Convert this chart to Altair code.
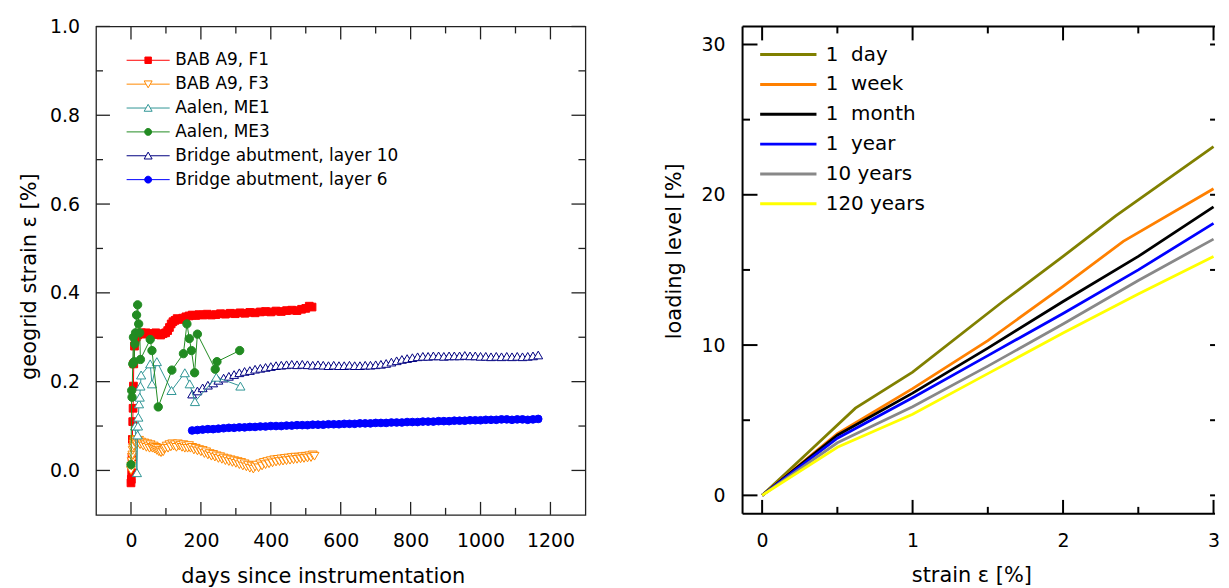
import altair as alt
import pandas as pd

FONT = "DejaVu Sans"

# ---------------- left chart data ----------------
left_names = ["BAB A9, F1", "BAB A9, F3", "Aalen, ME1", "Aalen, ME3",
              "Bridge abutment, layer 10", "Bridge abutment, layer 6"]
left_colors = ["#ff0000", "#ff8800", "#2f9595", "#228b22", "#000080", "#0000ff"]
left_fills = ["#ff0000", "#ffffff", "#ffffff", "#228b22", "#ffffff", "#0000ff"]
left_shapes = ["square", "triangle-down", "triangle-up", "circle", "triangle-up", "circle"]
left_sizes = [60, 80, 85, 70, 80, 60]
legend_paths = [
    "M-1,0H-0.15M0.15,0H1M-0.15,-0.15H0.15V0.15H-0.15Z",
    "M-1,0H-0.1M0.1,0H1M-0.185,-0.15H0.185L0,0.17Z",
    "M-1,0H-0.1M0.1,0H1M0,-0.17L0.185,0.15H-0.185Z",
    "M-1,0H1M0.16,0A0.16,0.16,0,1,1,-0.16,0A0.16,0.16,0,1,1,0.16,0Z",
    "M-1,0H-0.1M0.1,0H1M0,-0.17L0.185,0.15H-0.185Z",
    "M-1,0H1M0.16,0A0.16,0.16,0,1,1,-0.16,0A0.16,0.16,0,1,1,0.16,0Z",
]

F1_days = [0, 1, 2, 3, 4, 5, 6, 7, 8, 10, 12, 15, 19, 24, 30, 36, 43, 50, 57, 64,
           71, 78, 85, 92, 99, 105, 110, 115, 120, 126, 132, 140, 148, 157, 166, 175, 185, 195, 206, 218,
           230, 243, 256, 270, 284, 298, 312, 326, 340, 355, 370, 385, 400, 415, 430, 445, 460, 475, 488, 500,
           510, 518]
F1_strain = [-0.028, -0.02, -0.005, 0.03, 0.07, 0.11, 0.14, 0.19, 0.24, 0.28,
             0.295, 0.30, 0.305, 0.308, 0.31, 0.307, 0.31, 0.308, 0.305, 0.308,
             0.31, 0.306, 0.305, 0.308, 0.31, 0.315, 0.322, 0.33, 0.335, 0.338,
             0.342, 0.34, 0.343, 0.346, 0.348, 0.35, 0.349, 0.351, 0.35, 0.352,
             0.35, 0.351, 0.353, 0.352, 0.354, 0.353, 0.355, 0.354, 0.356, 0.355,
             0.357, 0.358, 0.357, 0.359, 0.358, 0.36, 0.361, 0.36, 0.363, 0.365,
             0.37, 0.368]

F3_days = [0, 1, 2, 3, 4, 5, 6, 7, 8, 9, 10, 12, 14, 16,
           20, 23, 26, 29, 32, 35, 38, 41, 44, 47, 50, 53, 56, 59, 62, 65, 68, 71, 74, 77, 80, 83, 86,
           89, 92, 95, 98,
           102, 106, 110, 114, 118, 122, 126, 130, 134, 138, 142, 146, 150, 154, 158, 162, 166, 170,
           175, 180, 185, 190, 195, 200, 205, 210, 215, 220, 225, 230, 235, 240, 245, 250, 255, 260,
           265, 270, 275, 280, 285, 290, 295, 300, 305, 310, 315, 320, 325, 330, 335, 340, 345, 350, 355,
           360, 365, 370, 375, 380, 385, 390, 395, 400, 405, 410, 415, 420, 425, 430, 435, 440, 445,
           450, 455, 460, 465, 470, 475, 480, 485, 490, 495, 500, 505, 510, 515, 520, 525]
F3_strain = [0.0, 0.01, 0.02, 0.03, 0.035, 0.045, 0.05, 0.06, 0.055, 0.065, 0.07, 0.062, 0.068, 0.06,
             0.062, 0.068, 0.058, 0.064, 0.06, 0.055, 0.062, 0.058, 0.052, 0.06, 0.055, 0.05, 0.058,
             0.052, 0.05, 0.055, 0.048, 0.052, 0.045, 0.05, 0.042, 0.046, 0.04, 0.045, 0.042, 0.048,
             0.05,
             0.055, 0.05, 0.058, 0.053, 0.06, 0.055, 0.058, 0.052, 0.06, 0.055, 0.057, 0.052, 0.058,
             0.05, 0.055, 0.05, 0.056, 0.05,
             0.052, 0.046, 0.05, 0.044, 0.047, 0.042, 0.045, 0.038, 0.042, 0.035, 0.038, 0.032, 0.036,
             0.03, 0.033, 0.027, 0.031, 0.025, 0.028, 0.022, 0.026, 0.02, 0.024, 0.018, 0.022, 0.016,
             0.02, 0.013, 0.018, 0.01, 0.015, 0.008, 0.012, 0.005, 0.01, 0.003, 0.008,
             0.012, 0.006, 0.015, 0.01, 0.018, 0.013, 0.02, 0.015, 0.022, 0.017, 0.024, 0.019, 0.025,
             0.02, 0.026, 0.021, 0.027, 0.022, 0.028, 0.023, 0.029, 0.024, 0.03, 0.025, 0.03, 0.026,
             0.031, 0.027, 0.032, 0.028, 0.033, 0.029, 0.035, 0.032]

ME1_days = [12, 17, 19, 20, 21, 23, 25, 27, 29, 55, 60, 74, 116, 154, 168, 183, 244, 313]
ME1_strain = [0.10, -0.005, 0.08, 0.10, 0.12, 0.15, 0.165, 0.19, 0.215, 0.24, 0.195, 0.245,
              0.18, 0.22, 0.195, 0.155, 0.21, 0.19]

ME3_days = [0, 2, 3, 5, 7, 9, 11, 13, 16, 19, 22, 25, 27, 55, 60, 78, 117, 150, 160, 167,
            173, 182, 190, 241, 246, 311]
ME3_strain = [0.013, 0.18, 0.165, 0.24, 0.30, 0.245, 0.285, 0.31, 0.35, 0.373, 0.33, 0.31, 0.25,
              0.295, 0.27, 0.143, 0.226, 0.263, 0.33, 0.297, 0.27, 0.22, 0.307, 0.228, 0.245, 0.27]

bridge_days = [175, 190, 205, 220, 235, 250, 265, 280, 295, 310, 325, 340, 355, 370, 385, 400, 415,
               430, 445, 460, 475, 490, 505, 520, 535, 550, 565, 580, 595, 610, 625, 640, 655, 670,
               685, 700, 715, 730, 745, 760, 775, 790, 805, 820, 835, 850, 865, 880, 895, 910, 925,
               940, 955, 970, 985, 1000, 1015, 1030, 1045, 1060, 1075, 1090, 1105, 1120, 1135, 1150, 1165]
L10_strain = [0.172, 0.179, 0.186, 0.192, 0.197, 0.203, 0.208, 0.212, 0.216, 0.22,
              0.223, 0.225, 0.228, 0.23, 0.232, 0.234, 0.236, 0.237, 0.238, 0.239,
              0.238, 0.239, 0.238, 0.237, 0.238, 0.237, 0.236, 0.237, 0.236, 0.236,
              0.237, 0.236, 0.236, 0.237, 0.237, 0.238, 0.239, 0.241, 0.244, 0.247,
              0.25, 0.252, 0.254, 0.256, 0.257, 0.257, 0.258, 0.258, 0.257, 0.258,
              0.258, 0.258, 0.259, 0.258, 0.258, 0.257, 0.257, 0.256, 0.257, 0.256,
              0.257, 0.256, 0.257, 0.256, 0.257, 0.258, 0.26]
L6_strain = [0.09, 0.091, 0.092, 0.093, 0.093, 0.094, 0.095, 0.096, 0.096, 0.097,
             0.097, 0.098, 0.098, 0.099, 0.099, 0.1, 0.1, 0.1, 0.101, 0.101,
             0.102, 0.102, 0.102, 0.103, 0.103, 0.103, 0.104, 0.104, 0.104, 0.105,
             0.105, 0.105, 0.106, 0.106, 0.106, 0.107, 0.107, 0.107, 0.108, 0.108,
             0.108, 0.109, 0.109, 0.109, 0.11, 0.11, 0.11, 0.111, 0.111, 0.111,
             0.112, 0.112, 0.112, 0.113, 0.113, 0.113, 0.114, 0.114, 0.114, 0.115,
             0.115, 0.114, 0.115, 0.115, 0.114, 0.115, 0.116]

left_x_major = [0, 200, 400, 600, 800, 1000, 1200]
left_x_minor = [100, 300, 500, 700, 900, 1100]
left_y_major = [0.0, 0.2, 0.4, 0.6, 0.8, 1.0]
left_y_minor = [0.1, 0.3, 0.5, 0.7, 0.9]

# ---------------- right chart data ----------------
right_names = ["1\u00a0\u00a0day", "1\u00a0\u00a0week", "1\u00a0\u00a0month", "1\u00a0\u00a0year",
               "10 years", "120 years"]
right_colors = ["#808000", "#ff8000", "#000000", "#0000ff", "#888888", "#ffff00"]
day1_eps = [0, 0.3, 0.62, 1.0, 1.6, 2.0, 2.35, 3.0]
day1_load = [0, 2.8, 5.8, 8.2, 12.9, 15.9, 18.6, 23.2]
week_eps = [0, 0.5, 1.0, 1.5, 2.0, 2.4, 3.0]
week_load = [0, 4.1, 7.1, 10.3, 13.9, 16.9, 20.4]
month_eps = [0, 0.5, 1.0, 1.5, 2.0, 2.5, 3.0]
month_load = [0, 4.0, 6.8, 9.8, 12.9, 15.9, 19.2]
year_eps = [0, 0.5, 1.0, 1.5, 2.0, 2.5, 3.0]
year_load = [0, 3.8, 6.5, 9.3, 12.1, 15.0, 18.1]
y10_eps = [0, 0.5, 1.0, 1.5, 2.0, 2.5, 3.0]
y10_load = [0, 3.5, 5.9, 8.6, 11.4, 14.3, 17.05]
y120_eps = [0, 0.5, 1.0, 1.5, 2.0, 2.5, 3.0]
y120_load = [0, 3.2, 5.4, 8.1, 10.8, 13.4, 15.9]

right_x_major = [0, 1, 2, 3]
right_x_minor = [0.5, 1.5, 2.5]
right_y_major = [0, 10, 20, 30]
right_y_minor = [5, 15, 25]

# ---------------- build tables ----------------
left_series = [(F1_days, F1_strain), (F3_days, F3_strain), (ME1_days, ME1_strain),
               (ME3_days, ME3_strain), (bridge_days, L10_strain), (bridge_days, L6_strain)]
rows = []
for name, (d, s) in zip(left_names, left_series):
    assert len(d) == len(s), name
    rows += [{"series": name, "day": a, "strain": b} for a, b in zip(d, s)]
dfL = pd.DataFrame(rows)

right_series = [(day1_eps, day1_load), (week_eps, week_load), (month_eps, month_load),
                (year_eps, year_load), (y10_eps, y10_load), (y120_eps, y120_load)]
rrows = []
for name, (e, l) in zip(right_names, right_series):
    assert len(e) == len(l), name
    rrows += [{"series": name, "eps": a, "load": b} for a, b in zip(e, l)]
dfR = pd.DataFrame(rrows)

# ---------------- left panel ----------------
WL, HL = 492, 491
SPACING = 158
TXT = dict(labelFont=FONT, labelColor="black", titleFont=FONT, titleColor="black",
           titleFontWeight="normal", ticks=False, tickSize=0, domain=False, grid=False,
           labelFlush=False)

xL = alt.X("day:Q", scale=alt.Scale(domain=[-100, 1300], nice=False, zero=False),
           axis=alt.Axis(values=left_x_major, format="d", labelFontSize=19, labelPadding=26,
                         labelBaseline="middle", title="days since instrumentation",
                         titleFontSize=21, titleX=228, titleY=62, titleBaseline="middle", **TXT))
yL = alt.Y("strain:Q", scale=alt.Scale(domain=[-0.1, 1.0], nice=False, zero=False),
           axis=alt.Axis(values=left_y_major, format=".1f", labelFontSize=19, labelPadding=16.6,
                         title="geogrid strain \u03b5 [%]", titleFontSize=21, titleX=-67,
                         titleY=251, titleBaseline="middle", **TXT))

left_layers = []
TCOL = "#222222"
for vals, L in [(left_x_major, 13), (left_x_minor, 7)]:
    b = alt.Chart(pd.DataFrame({"day": vals})).mark_rule(color=TCOL, strokeWidth=1.3)
    left_layers.append(b.encode(x=xL, y=alt.value(HL), y2=alt.value(HL - L)))
    left_layers.append(b.encode(x=xL, y=alt.value(0), y2=alt.value(L)))
for vals, L in [(left_y_major, 14), (left_y_minor, 7)]:
    b = alt.Chart(pd.DataFrame({"strain": vals})).mark_rule(color=TCOL, strokeWidth=1.3)
    left_layers.append(b.encode(y=yL, x=alt.value(0), x2=alt.value(L)))
    left_layers.append(b.encode(y=yL, x=alt.value(WL), x2=alt.value(WL - L)))

draw_order = [0, 1, 4, 5, 2, 3]
for i in draw_order:
    name = left_names[i]
    sub = alt.Chart(dfL).transform_filter(alt.datum.series == name)
    left_layers.append(sub.mark_line(color=left_colors[i], strokeWidth=1).encode(x=xL, y=yL))
    left_layers.append(sub.mark_point(shape=left_shapes[i], size=left_sizes[i], fill=left_fills[i],
                                      stroke=left_colors[i], strokeWidth=1, opacity=1,
                                      fillOpacity=1).encode(x=xL, y=yL))

legL = alt.Legend(title=None, orient="none", legendX=29.9, legendY=22.2, clipHeight=23.6,
                  rowPadding=0, padding=0, symbolSize=1875, symbolStrokeWidth=1, symbolOffset=0,
                  labelOffset=4.8, labelFont=FONT, labelFontSize=17, labelColor="black",
                  labelLimit=400, symbolOpacity=1)
legend_layer = alt.Chart(pd.DataFrame({"series": left_names})).transform_filter("false").mark_point(
    strokeWidth=1, opacity=1).encode(
    shape=alt.Shape("series:N", scale=alt.Scale(domain=left_names, range=legend_paths), legend=legL),
    stroke=alt.Stroke("series:N", scale=alt.Scale(domain=left_names, range=left_colors), legend=legL),
    fill=alt.Fill("series:N", scale=alt.Scale(domain=left_names, range=left_fills), legend=legL),
)
left_layers.append(legend_layer)

left = alt.layer(*left_layers).properties(
    width=WL, height=HL, view=alt.ViewBackground(stroke="#222222", strokeWidth=1.3))

# ---------------- right panel ----------------
WR, HR = 475, 490
xR = alt.X("eps:Q", scale=alt.Scale(domain=[-0.13, 3.01], nice=False, zero=False),
           axis=alt.Axis(values=right_x_major, labelFontSize=19, labelPadding=26.4,
                         labelBaseline="middle", title="strain \u03b5 [%]", titleFontSize=21,
                         titleX=230, titleY=62, titleBaseline="middle", **TXT))
yR = alt.Y("load:Q", scale=alt.Scale(domain=[-1.23, 31.2], nice=False, zero=False),
           axis=alt.Axis(values=right_y_major, labelFontSize=19, labelPadding=17.6,
                         title="loading level [%]", titleFontSize=21, titleX=-68.6, titleY=225.5,
                         titleBaseline="middle", **TXT))

right_layers = []
frame = alt.Chart(pd.DataFrame({"k": [0]})).mark_rule(color="black", strokeWidth=2)
right_layers.append(frame.encode(x=alt.value(0), y=alt.value(0), y2=alt.value(HR)))
right_layers.append(frame.encode(x=alt.value(0), x2=alt.value(WR), y=alt.value(0)))
right_layers.append(frame.encode(x=alt.value(0), x2=alt.value(WR), y=alt.value(HR)))
for vals, L in [(right_x_major, 14), (right_x_minor, 7)]:
    b = alt.Chart(pd.DataFrame({"eps": vals})).mark_rule(color="black", strokeWidth=2)
    right_layers.append(b.encode(x=xR, y=alt.value(HR), y2=alt.value(HR - L)))
    right_layers.append(b.encode(x=xR, y=alt.value(0), y2=alt.value(L)))
for vals, L in [(right_y_major, 15), (right_y_minor, 7.5)]:
    b = alt.Chart(pd.DataFrame({"load": vals})).mark_rule(color="black", strokeWidth=2)
    right_layers.append(b.encode(y=yR, x=alt.value(0), x2=alt.value(L)))
    right_layers.append(b.encode(y=yR, x=alt.value(WR - 5), x2=alt.value(WR)))

# legends of a concat are placed relative to the whole chart: shift by the left panel
legR = alt.Legend(title=None, orient="none", legendX=WL + SPACING + 16, legendY=13.4,
                  clipHeight=29.8, rowPadding=0, padding=0, symbolSize=3204, symbolStrokeWidth=3,
                  symbolType="stroke", labelOffset=7.7, labelFont=FONT, labelFontSize=20,
                  labelColor="black", labelLimit=400)
right_layers.append(alt.Chart(dfR).mark_line(strokeWidth=2.8).encode(
    x=xR, y=yR,
    color=alt.Color("series:N", scale=alt.Scale(domain=right_names, range=right_colors), legend=legR),
))

right = alt.layer(*right_layers).properties(
    width=WR, height=HR, view=alt.ViewBackground(stroke="transparent"))

chart = alt.hconcat(left, right, spacing=SPACING, bounds="flush").properties(
    padding={"left": 9.5, "top": 7, "right": 0, "bottom": 0}
).configure(background="white", font=FONT)

chart.save("out.html", embed_options={"renderer": "svg", "actions": False})
